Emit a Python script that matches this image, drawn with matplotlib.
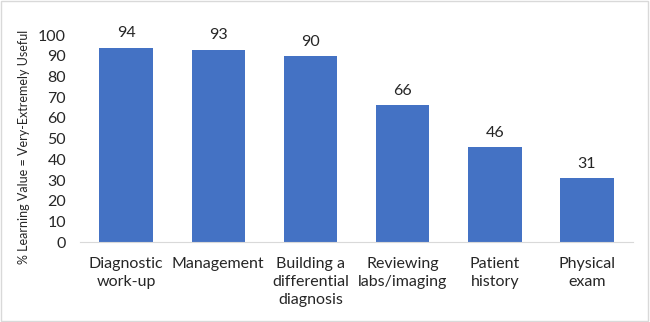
import matplotlib
matplotlib.use("Agg")
import matplotlib.pyplot as plt

#Chart data
categories = ["Diagnostic\nwork-up", "Management", "Building a\ndifferential\ndiagnosis",
              "Reviewing\nlabs/imaging", "Patient\nhistory", "Physical\nexam"]
values = [94, 93, 90, 66, 46, 31]
yticks = [0, 10, 20, 30, 40, 50, 60, 70, 80, 90, 100]

plt.rcParams['font.family'] = ['Lato', 'DejaVu Sans']

fig = plt.figure(figsize=(6.5, 3.22), dpi=100)
ax = fig.add_axes([0.123, 0.248, 0.851, 0.643])

x = range(len(categories))
bars = ax.bar(x, values, width=0.58, color="#4472C4")

#Value labels above bars
for b, v in zip(bars, values):
    ax.text(b.get_x() + b.get_width() / 2, v + 3.5, str(v), ha="center", va="bottom",
            fontsize=11.5, color="#262626")

ax.set_xlim(-0.5, len(categories) - 0.5)
ax.set_ylim(0, 100)
ax.set_yticks(yticks)
ax.set_xticks(list(x))
ax.set_xticklabels(categories, fontsize=11.5, color="#262626", linespacing=1.35)
ax.tick_params(axis="y", labelsize=11.5, labelcolor="#262626", length=0, pad=10)
ax.tick_params(axis="x", length=0, pad=11)
ax.set_ylabel("% Learning Value = Very-Extremely Useful", fontsize=9, color="#262626")
ax.yaxis.set_label_coords(-0.09, 0.46)

#Only keep the bottom spine
for s in ["top", "right", "left"]:
    ax.spines[s].set_visible(False)
ax.spines["bottom"].set_color("#D9D9D9")

#Light border around figure
fig.patches.append(plt.Rectangle((0.002, 0.003), 0.995, 0.993, transform=fig.transFigure,
                                 fill=False, edgecolor="#D9D9D9", linewidth=1))

plt.savefig("out.png", dpi=100)
plt.close(fig)
